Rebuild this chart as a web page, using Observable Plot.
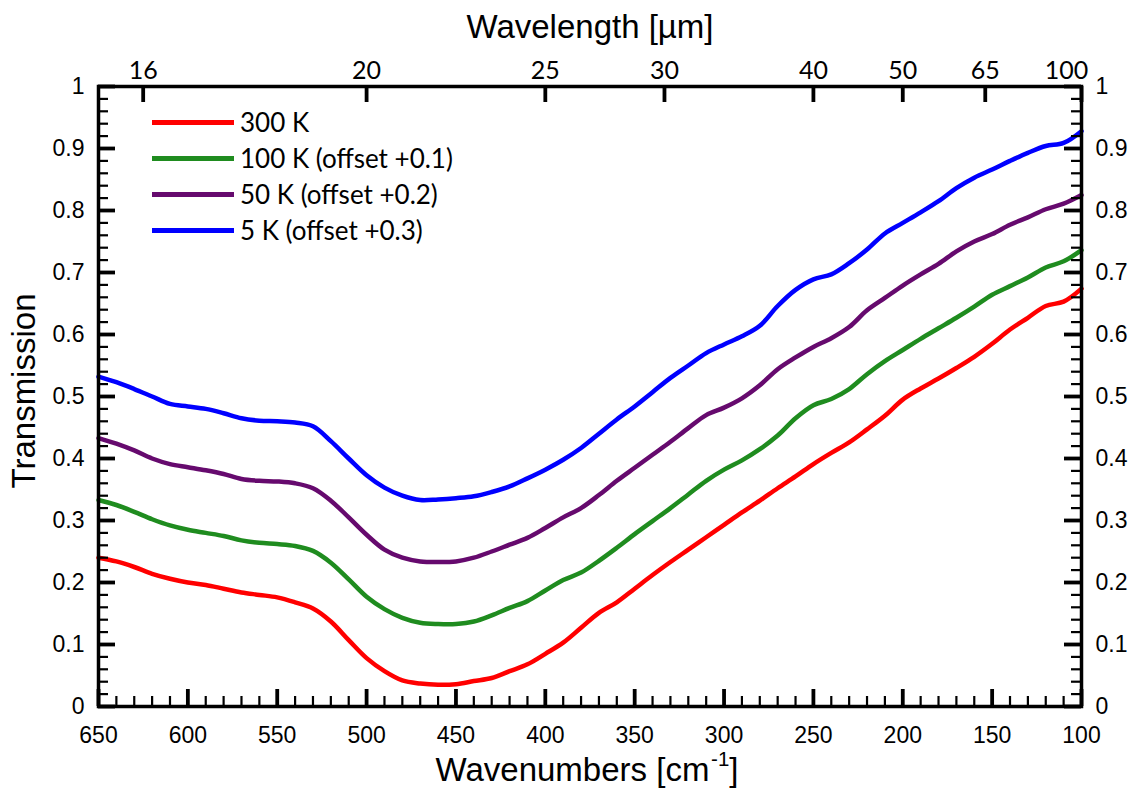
<!DOCTYPE html>
<html><head><meta charset="utf-8">
<script src="https://cdn.jsdelivr.net/npm/d3@7"></script>
<script src="https://cdn.jsdelivr.net/npm/@observablehq/plot@0.6"></script>
<style>
body{margin:0;background:#fff;}
#wrap{position:relative;width:1143px;height:796px;font-family:"Liberation Sans",Arial,sans-serif;color:#000;}
.t{position:absolute;white-space:nowrap;transform:translate(-50%,-50%);}
.title{font-size:33px;}
.legend{position:absolute;left:152px;top:104px;font-family:Lato,"Open Sans",sans-serif;font-size:26px;}
.row{display:flex;align-items:center;height:36px;}
.sw{width:82px;height:5px;margin-right:6px;}
</style></head><body><div id="wrap"></div>
<script>
const wavenumbers = [650,640,630,620,610,600,590,580,570,560,550,540,530,520,510,500,490,480,470,460,450,440,430,420,410,400,390,380,370,360,350,340,330,320,310,300,290,280,270,260,250,240,230,220,210,200,190,180,170,160,150,140,130,120,110,100];
const t300K = [0.240,0.234,0.225,0.214,0.206,0.200,0.196,0.190,0.184,0.180,0.176,0.168,0.158,0.137,0.107,0.078,0.057,0.042,0.037,0.035,0.036,0.041,0.046,0.057,0.068,0.085,0.103,0.127,0.151,0.168,0.190,0.212,0.233,0.253,0.273,0.293,0.313,0.332,0.352,0.371,0.391,0.409,0.426,0.447,0.469,0.495,0.513,0.529,0.546,0.564,0.585,0.608,0.627,0.646,0.653,0.674];
const t100K = [0.333,0.325,0.314,0.302,0.292,0.285,0.280,0.275,0.268,0.264,0.262,0.259,0.251,0.232,0.205,0.177,0.157,0.143,0.135,0.133,0.133,0.137,0.147,0.159,0.170,0.187,0.204,0.216,0.235,0.256,0.278,0.299,0.320,0.342,0.364,0.382,0.397,0.415,0.437,0.465,0.486,0.496,0.512,0.536,0.557,0.575,0.593,0.610,0.627,0.645,0.664,0.678,0.692,0.708,0.718,0.736];
const t50K = [0.433,0.424,0.413,0.400,0.391,0.386,0.381,0.375,0.367,0.364,0.363,0.360,0.352,0.332,0.305,0.277,0.253,0.240,0.234,0.233,0.234,0.240,0.250,0.261,0.272,0.288,0.305,0.320,0.341,0.364,0.385,0.406,0.427,0.449,0.470,0.482,0.497,0.518,0.544,0.563,0.580,0.594,0.612,0.639,0.659,0.679,0.697,0.714,0.734,0.750,0.762,0.777,0.789,0.802,0.811,0.825];
const t5K = [0.532,0.523,0.512,0.500,0.488,0.484,0.480,0.473,0.465,0.461,0.460,0.458,0.452,0.428,0.400,0.373,0.353,0.340,0.333,0.334,0.336,0.339,0.346,0.355,0.368,0.382,0.398,0.417,0.440,0.463,0.484,0.507,0.530,0.550,0.570,0.584,0.597,0.614,0.646,0.672,0.689,0.697,0.715,0.737,0.763,0.780,0.797,0.815,0.836,0.853,0.866,0.880,0.893,0.904,0.909,0.928];
const seriesNames = ["300 K","100 K (offset +0.1)","50 K (offset +0.2)","5 K (offset +0.3)"];
const seriesColors = ["#ff0000","#1f8c1f","#660a6e","#0000ff"];
const xMajorTicks = [650,600,550,500,450,400,350,300,250,200,150,100];
const yMajorTicks = [0,0.1,0.2,0.3,0.4,0.5,0.6,0.7,0.8,0.9,1];
const wavelengthTicks = [16,20,25,30,40,50,65,100];

const seriesValues = [t300K, t100K, t50K, t5K];
const rows = seriesValues.flatMap((vals, i) => wavenumbers.map((w, j) => ({wn: w, t: vals[j], s: seriesNames[i]})));
const xMinor = d3.range(100, 651, 10).filter(d => d % 50 !== 0);
const yMinor = d3.range(0, 51).filter(i => i % 5 !== 0).map(i => i / 50);
const topTicks = wavelengthTicks.map(l => 1e4 / l);
const lastTop = topTicks[topTicks.length - 1];
const topFont = "Lato, 'Open Sans', sans-serif";
const wl = d => String(Math.round(1e4 / d));

const W = 1143, H = 796, mL = 98, mR = 62, mT = 86, mB = 90;
const xD = [650, 100], yD = [0, 1];
const xPer = px => px * (xD[0] - xD[1]) / (W - mL - mR);
const yPer = px => px * (yD[1] - yD[0]) / (H - mT - mB);

const tickRuleX = (ticks, atY, dir, len, w) => Plot.ruleX(ticks, {x: d => d, y1: atY, y2: atY + dir * yPer(len), stroke: "#000", strokeWidth: w});
const tickRuleY = (ticks, atX, dir, len, w) => Plot.ruleY(ticks, {y: d => d, x1: atX, x2: atX + dir * xPer(len), stroke: "#000", strokeWidth: w});

const chart = Plot.plot({
  width: W, height: H,
  marginLeft: mL, marginRight: mR, marginTop: mT, marginBottom: mB,
  style: {fontFamily: '"Liberation Sans", Arial, sans-serif', background: "white", color: "black"},
  x: {domain: xD},
  y: {domain: yD},
  color: {domain: seriesNames, range: seriesColors},
  marks: [
    Plot.line(rows, {x: "wn", y: "t", stroke: "s", strokeWidth: 4.5, curve: "catmull-rom"}),
    Plot.frame({stroke: "black", strokeWidth: 3.5}),
    tickRuleX(xMinor, yD[0], 1, 10, 2.2),
    tickRuleX(xMajorTicks, yD[0], 1, 17, 3.8),
    tickRuleX(topTicks, yD[1], -1, 16, 3.8),
    tickRuleY(yMinor, xD[0], -1, 10, 2.2),
    tickRuleY(yMajorTicks, xD[0], -1, 17, 3.8),
    tickRuleY(yMinor, xD[1], 1, 10, 2.2),
    tickRuleY(yMajorTicks, xD[1], 1, 17, 3.8),
    Plot.axisX({anchor: "bottom", ticks: xMajorTicks, tickSize: 0, tickPadding: 20, fontSize: 23, tickFormat: d => String(d), label: null}),
    Plot.axisX({anchor: "top", ticks: topTicks.filter(d => d !== lastTop), tickSize: 0, tickPadding: 8, fontSize: 25, fontFamily: topFont, tickFormat: wl, label: null}),
    Plot.axisX({anchor: "top", ticks: [lastTop], tickSize: 0, tickPadding: 8, dx: -15, fontSize: 25, fontFamily: topFont, tickFormat: wl, label: null}),
    Plot.axisY({anchor: "left", ticks: yMajorTicks, tickSize: 0, tickPadding: 14, fontSize: 23, tickFormat: d => String(d), label: null}),
    Plot.axisY({anchor: "right", ticks: yMajorTicks, tickSize: 0, tickPadding: 14, fontSize: 23, tickFormat: d => String(d), label: null})
  ]
});
const wrap = document.getElementById("wrap");
wrap.appendChild(chart);

function addText(html, cls, x, y, rot) {
  const d = document.createElement("div");
  d.className = "t " + cls;
  d.innerHTML = html;
  d.style.left = x + "px"; d.style.top = y + "px";
  if (rot) d.style.transform = "translate(-50%,-50%) rotate(" + rot + "deg)";
  wrap.appendChild(d);
}
addText("Wavelength [µm]", "title", 590, 27);
addText("Wavenumbers [cm<sup style='font-size:0.62em;vertical-align:0.75em'>&#8202;-1</sup>]", "title", 587, 768);
addText("Transmission", "title", 24, 391, -90);

const legend = document.createElement("div");
legend.className = "legend";
seriesNames.forEach((name, i) => {
  const r = document.createElement("div"); r.className = "row";
  const sw = document.createElement("div"); sw.className = "sw"; sw.style.background = seriesColors[i];
  const lb = document.createElement("span"); lb.textContent = name;
  r.appendChild(sw); r.appendChild(lb); legend.appendChild(r);
});
wrap.appendChild(legend);
</script></body></html>
